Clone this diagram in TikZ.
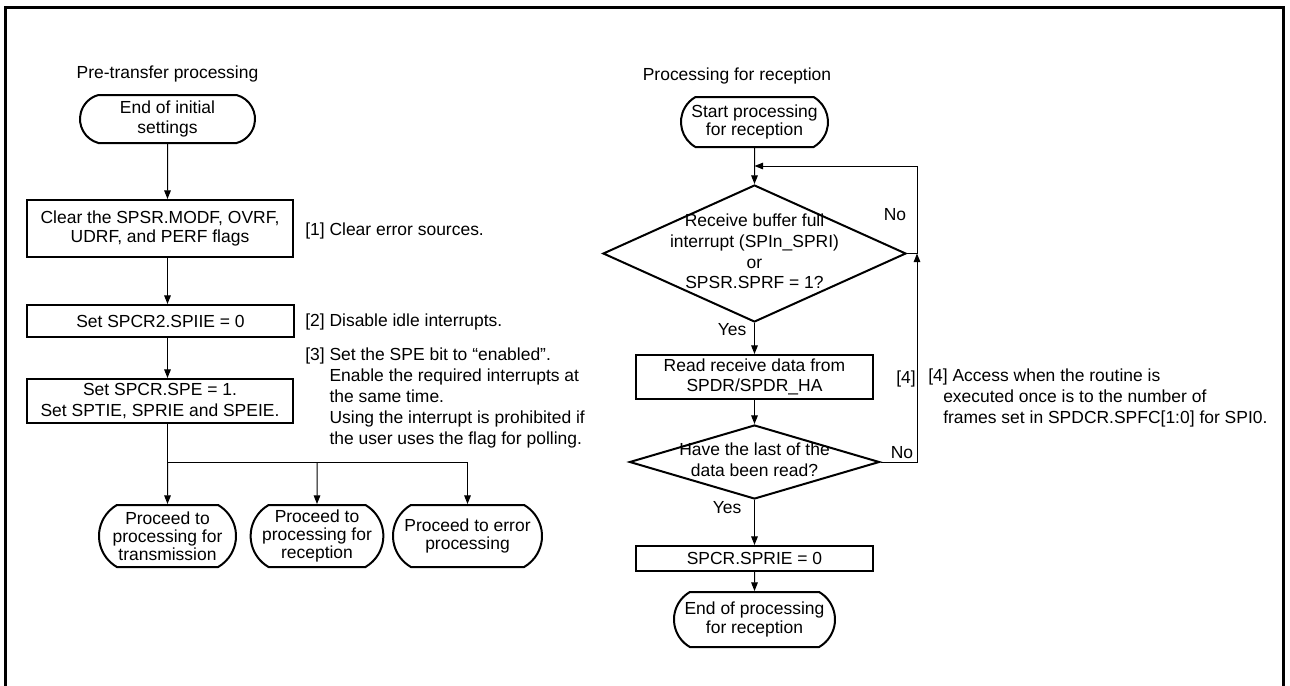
\documentclass[tikz,border=0pt]{standalone}
\usepackage{fontspec}
\setmainfont{Liberation Sans}
\usetikzlibrary{shapes.geometric,shapes.misc,arrows.meta}
\newcommand\ztext[1]{\smash{\makebox[0pt]{\raisebox{-3pt}{\begin{tabular}{@{}c@{}}#1\end{tabular}}}}}
\begin{document}
\begin{tikzpicture}[x=0.75pt,y=-0.75pt,
  every node/.style={font=\fontsize{13.1pt}{15.6pt}\selectfont, inner sep=0pt, align=center},
  tight/.style={font=\fontsize{13.1pt}{13.6pt}\selectfont},
  sz/.style 2 args={minimum width=#1*0.75pt, minimum height=#2*0.75pt},
  box/.style={draw, line width=1.5pt, rectangle},
  term/.style={draw, line width=1.5pt, rounded rectangle, rounded rectangle arc length=120},
  dia/.style={draw, line width=1.5pt, diamond},
  arr/.style={line width=0.75pt, -{Triangle[length=6.5pt,width=5pt]}},
  ln/.style={line width=0.75pt},
  note/.style={align=left},
]
\useasboundingbox (0,0) rectangle (1290,686);
\draw[line width=2.25pt] (5.5,690) -- (5.5,7.5) -- (1283.5,7.5) -- (1283.5,690);

% left column
\node (h1) at (167.5,74) {Pre-transfer processing};
\node[term, rounded rectangle arc length=150, sz={175}{48}] (t0) at (167.5,119) {End of initial\\settings};
\node[box, tight, sz={266}{57}] (b1) at (160,228.5) {Clear the SPSR.MODF, OVRF,\\UDRF, and PERF flags};
\node[anchor=west] (a1) at (305,231) {[1] Clear error sources.};
\node[box, sz={267}{32}] (b2) at (160.5,321) {Set SPCR2.SPIIE = 0};
\node[anchor=west] (a2) at (305,322) {[2] Disable idle interrupts.};
\node[box, sz={266}{44}] (b3) at (160,401) {Set SPCR.SPE = 1.\\Set SPTIE, SPRIE and SPEIE.};
\node[note, anchor=north west] (a3) at (305,348) {[3] Set the SPE bit to “enabled”.\\\hphantom{[3] }Enable the required interrupts at\\\hphantom{[3] }the same time.\\\hphantom{[3] }Using the interrupt is prohibited if\\\hphantom{[3] }the user uses the flag for polling.};
\coordinate (j) at (167.5,462);
\node[term, tight, sz={137}{62}] (t1) at (167.5,536) {Proceed to\\processing for\\transmission};
\node[term, tight, sz={130}{62}] (t2) at (317,536) {Proceed to\\processing for\\reception};
\node[term, tight, sz={149}{62}] (t3) at (467.5,536) {Proceed to error\\processing};

\draw[arr] (t0) -- (b1.north -| t0);
\draw[arr] (b1.south -| t0) -- (b2.north -| t0);
\draw[arr] (b2.south -| t0) -- (b3.north -| t0);
\draw[ln] (b3.south -| t0) -- (j);
\draw[arr] (j) -- (t1);
\draw[arr] (j) -| (t3);
\draw[arr] (j -| t2) -- (t2);

% right column
\node (h2) at (737,76) {Processing for reception};
\node[term, tight, sz={147}{50}] (ts) at (754.5,122) {Start processing\\for reception};
\node[dia, sz={303}{137}] (d1) at (754.5,253.5) {\ztext{Receive buffer full\\interrupt (SPIn\_SPRI)\\or\\SPSR.SPRF = 1?}};
\node (n1) at (895,215) {No};
\node (y1) at (732,330) {Yes};
\node[box, sz={237}{44}] (b4) at (754.5,377) {Read receive data from\\SPDR/SPDR\_HA};
\node (l4) at (906,379) {[4]};
\node[note, anchor=north west] (a4) at (928,369) {[4] Access when the routine is\\\hspace*{11.25pt}executed once is to the number of\\\hspace*{11.25pt}frames set in SPDCR.SPFC[1:0] for SPI0.};
\node[dia, sz={250}{74}] (d2) at (754.5,462) {\ztext{Have the last of the\\data been read?}};
\node (n2) at (902,453) {No};
\node (y2) at (727,508) {Yes};
\node[box, sz={237}{25}] (b5) at (754.5,558.5) {SPCR.SPRIE = 0};
\node[term, tight, sz={161}{55}] (te) at (754.5,619.5) {End of processing\\for reception};
\coordinate (rj) at (917,253.5);
\coordinate (tp) at (917,166);

\draw[arr] (ts) -- (d1);
\draw[arr] (d1.east) -- (rj) -- (tp) -- (tp -| d1.north);
\draw[arr] (d1) -- (b4);
\draw[arr] (b4) -- (d2);
\draw[arr] (d2) -- (b5);
\draw[arr] (b5) -- (te);
\draw[arr] (d2.east) -| (rj);
\end{tikzpicture}
\end{document}
